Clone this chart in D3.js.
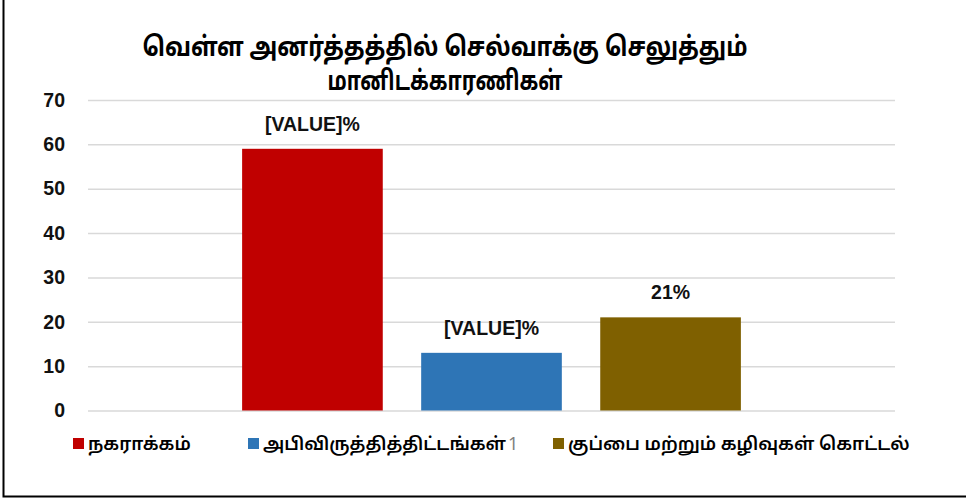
<!DOCTYPE html>
<html>
<head>
<meta charset="utf-8">
<script src="https://cdn.jsdelivr.net/npm/d3@7"></script>
<style>
	body { margin: 0; background: #fff; }
	svg { display: block; }
	.tamil { font-family: "Noto Sans Tamil", "Latha", "Noto Sans", sans-serif; }
	.num { font-family: "Liberation Sans", Arial, sans-serif; font-weight: bold; }
</style>
</head>
<body>
<div id="chart"></div>
<script>
//values
let series = ["நகராக்கம்", "அபிவிருத்தித்திட்டங்கள்", "குப்பை மற்றும் கழிவுகள் கொட்டல்"];
let values = [59, 13, 21];
let labels = ["[VALUE]%", "[VALUE]%", "21%"];
let legendSuffix = ["", "1", ""];
let colorList = ["#c00000", "#2e75b6", "#7f6000"];
let yTicks = [0, 10, 20, 30, 40, 50, 60, 70];
let titleLines = ["வெள்ள அனர்த்தத்தில் செல்வாக்கு செலுத்தும்", "மானிடக்காரணிகள்"];

function graph(){

	let width = 966;
	let height = 501;
	let margin = {top:100, right:71, bottom:91, left:88};

	let svg = d3.select("#chart")
		.append("svg")
		.attr("width", width)
		.attr("height", height);

	//outer frame (top and right run off the picture)
	svg.append("rect")
		.attr("x", 3.5)
		.attr("y", -10)
		.attr("width", width + 20)
		.attr("height", 506.5)
		.attr("fill", "none")
		.attr("stroke", "#000")
		.attr("stroke-width", 2);

	//scales
	let yScale = d3.scaleLinear()
		.domain([0, 70])
		.range([height - margin.bottom + 0.5, margin.top]);

	let x0 = d3.scaleBand()
		.domain(["all"])
		.range([margin.left, width - margin.right])
		.paddingOuter(0.309);

	let x1 = d3.scaleBand()
		.domain(series)
		.range([0, x0.bandwidth()])
		.paddingInner(0.2145);

	let colors = d3.scaleOrdinal()
		.domain(series)
		.range(colorList);

	//gridlines
	let yAxis = d3.axisLeft(yScale)
		.tickValues(yTicks)
		.tickSize(-(width - margin.left - margin.right))
		.tickPadding(23);

	let gAxis = svg.append("g")
		.attr("class", "axis y_axis")
		.attr("transform", `translate(${margin.left},0)`)
		.call(yAxis);

	gAxis.select(".domain").remove();
	gAxis.selectAll("line")
		.attr("stroke", "#d9d9d9")
		.attr("stroke-width", 1.5);
	gAxis.selectAll("text")
		.attr("class", "num")
		.attr("font-size", 19.5)
		.attr("fill", "#111");

	//bars
	let g = svg.append("g")
		.attr("transform", `translate(${x0("all")},0)`);

	g.selectAll(".bar")
		.data(series)
		.enter()
		.append("rect")
		.attr("class", "bar")
		.attr("x", (d)=>{ return x1(d); })
		.attr("width", x1.bandwidth())
		.attr("y", (d, i)=>{ return yScale(values[i]); })
		.attr("height", (d, i)=>{ return yScale(0) - yScale(values[i]); })
		.attr("fill", (d)=>{ return colors(d); });

	//data labels
	g.selectAll(".lbl")
		.data(series)
		.enter()
		.append("text")
		.attr("class", "num")
		.attr("x", (d)=>{ return x1(d) + x1.bandwidth()/2; })
		.attr("y", (d, i)=>{ return yScale(values[i]) - 18; })
		.attr("text-anchor", "middle")
		.attr("font-size", 19.5)
		.attr("fill", "#111")
		.text((d, i)=>{ return labels[i]; });

	//title
	let titleWidth = [605, 235];
	svg.append("g")
		.selectAll("text")
		.data(titleLines)
		.enter()
		.append("text")
		.attr("class", "tamil")
		.attr("x", (d, i)=>{ return 445 - titleWidth[i]/2; })
		.attr("y", (d, i)=>{ return 56 + i*34; })
		.attr("textLength", (d, i)=>{ return titleWidth[i]; })
		.attr("lengthAdjust", "spacingAndGlyphs")
		.attr("font-size", 27)
		.attr("font-weight", "bold")
		.attr("fill", "#000")
		.text((d)=>{ return d; });

	//legend
	let legendX = [73, 248, 553];
	let lg = svg.append("g")
		.selectAll("g")
		.data(series)
		.enter()
		.append("g")
		.attr("transform", (d, i)=>{ return `translate(${legendX[i]},438)`; });

	lg.append("rect")
		.attr("width", 11)
		.attr("height", 11)
		.attr("fill", (d)=>{ return colors(d); });

	let lt = lg.append("text")
		.attr("class", "tamil")
		.attr("x", 15)
		.attr("y", 12)
		.attr("font-size", 18)
		.attr("font-weight", 600)
		.attr("fill", "#000")
		.text((d)=>{ return d; });

	//grey footnote digit after a legend entry
	lg.append("text")
		.attr("class", "tamil")
		.attr("x", function(d, i){ return 15 + lt.nodes()[i].getComputedTextLength() + 2; })
		.attr("y", 12)
		.attr("font-size", 18)
		.attr("fill", "#7f7f7f")
		.text((d, i)=>{ return legendSuffix[i]; });

} //function graph

graph();
</script>
</body>
</html>
